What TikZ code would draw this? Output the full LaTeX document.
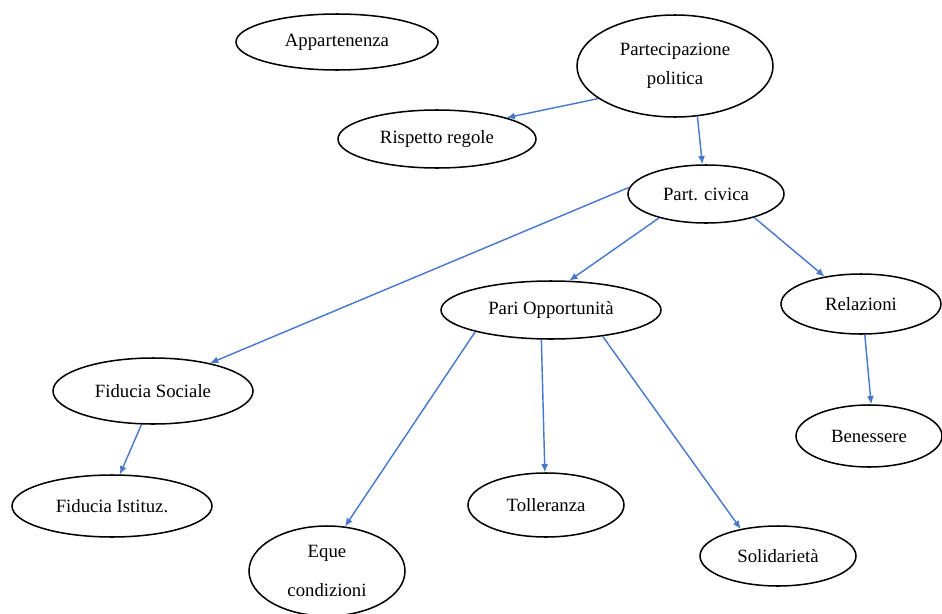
\documentclass[tikz,border=0pt]{standalone}
\usepackage{fontspec}
\setmainfont{Liberation Serif}
\usetikzlibrary{shapes.geometric, arrows.meta}
\definecolor{linea}{RGB}{70,118,205}
\begin{document}
\begin{tikzpicture}[x = .03cm, y = -.03cm,
		bolla/.style 2 args = {ellipse, draw, line width = 1.3pt, inner sep = 0pt, minimum width = #1*.03cm, minimum height = #2*.03cm, font = \fontsize{16}{25}\selectfont, align = center},
		freccia/.style = {-{Latex[length = 7pt, width = 6pt]}, linea, line width = 1.2pt}]
	\useasboundingbox (0, 0) rectangle (942, 614);
	\foreach \n/\x/\y/\w/\h/\t in {ap/337/42/202/56/Appartenenza, pp/675/66/196/102/{Partecipazione\\politica}, rr/437/139/198/58/Rispetto regole, pc/706/194/156/58/Part. civica, po/551/310/220/58/Pari Opportunità, rel/861/304/160/60/Relazioni, fs/153/391/200/66/Fiducia Sociale, ben/869/436/146/62/Benessere, fi/112/506/200/62/Fiducia Istituz., tol/546/505/156/64/Tolleranza, eq/327/571/156/90/{Eque\\[9pt]condizioni}, sol/778/556/156/60/Solidarietà}
	\node[bolla = {\w}{\h}] (\n) at (\x, \y) {\t};
	\foreach \a/\b in {pp.203/rr.17, pp.294/pc.97, pc.175/fs.26, pc.207/po.58, pc.334/rel.143, po.196/eq.68, po.252/tol.92, po.333/sol.144, rel.277/ben.86, fs.251/fi.76}
	\draw[freccia] (\a) -- (\b);
\end{tikzpicture}
\end{document}
